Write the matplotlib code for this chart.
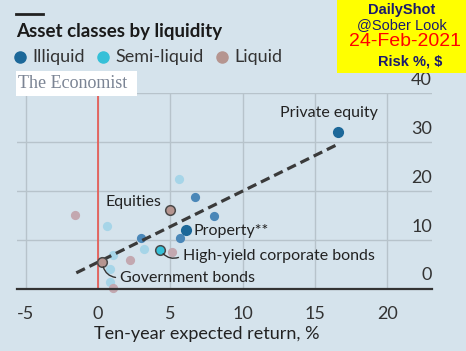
import matplotlib.pyplot as plt
import matplotlib.transforms as mtransforms
from matplotlib.lines import Line2D

plt.rcParams['font.family'] = ['Lato', 'DejaVu Sans']

# 資料：十年預期報酬 (%) 與風險 (%)
illiquid_x = [6.7, 8.0, 3.0, 5.7]
illiquid_y = [18.8, 15.0, 10.5, 10.4]
semi_x = [5.6, 0.6, 3.2, 1.06, 0.83, 0.83]
semi_y = [22.5, 12.9, 8.15, 6.85, 4.0, 1.5]
liquid_x = [-1.6, 5.1, 2.2, 1.06]
liquid_y = [15.2, 7.5, 5.95, 0.3]

# 標註的資產
named = ['Private equity', 'Equities', 'Property**', 'High-yield corporate bonds', 'Government bonds']
named_kind = ['illiquid', 'liquid', 'illiquid', 'semi', 'liquid']
named_x = [16.6, 5.0, 6.1, 4.3, 0.3]
named_y = [32.0, 16.2, 12.0, 8.0, 5.5]

trend_x = [-1.5, 16.6]
trend_y = [3.3, 29.6]

xticks = [-5, 0, 5, 10, 15, 20]
yticks = [0, 10, 20, 30, 40]

bg = '#d5e3ec'
dark = {'illiquid': '#1c6899', 'semi': '#35c0d8', 'liquid': '#b59590'}
faded = {'illiquid': '#4a87b8', 'semi': '#a6d5e8', 'liquid': '#c3a8b0'}

fig = plt.figure(figsize=(4.66, 3.51), dpi=100, facecolor=bg)
ax = fig.add_axes([17/466, 1-289/351, (432-17)/466, (289-93.3)/351])
ax.set_facecolor(bg)
ax.set_xlim(-5.6, 23.1)
ax.set_ylim(0, 40)

for s in ax.spines.values():
    s.set_visible(False)
ax.axhline(0, color='#333333', lw=1.6, zorder=5, clip_on=False)

# 格線
for v in xticks:
    ax.axvline(v, color='#b7c3cb', lw=1, zorder=0)
for v in yticks[1:]:
    ax.axhline(v, color='#b7c3cb', lw=1, zorder=0)
ax.axvline(0, color='#e8554e', lw=1.2, zorder=1)

ax.set_xticks(xticks)
ax.set_xticklabels([str(v) for v in xticks], fontsize=13, color='#333333')
ax.tick_params(axis='x', length=0, pad=12)
ax.set_yticks([])
ax.set_xlabel('Ten-year expected return, %', fontsize=13, color='#222222')
ax.xaxis.set_label_coords((206.5-17)/415, -(334-289)/195.7)
ax.xaxis.label.set_va('center')

off = mtransforms.ScaledTranslation(0, 4/72, fig.dpi_scale_trans)
ytrans = mtransforms.blended_transform_factory(ax.transAxes, ax.transData) + off
for v in yticks:
    ax.text(1.0, v, str(v), transform=ytrans, ha='right', va='bottom',
            fontsize=13, color='#333333')

# 背景點
ax.scatter(illiquid_x, illiquid_y, s=44, color=faded['illiquid'], lw=0, zorder=2, clip_on=False)
ax.scatter(semi_x, semi_y, s=44, color=faded['semi'], lw=0, zorder=2, clip_on=False)
ax.scatter(liquid_x, liquid_y, s=44, color=faded['liquid'], lw=0, zorder=2, clip_on=False)

# 趨勢線
ax.plot(trend_x, trend_y, color='#3a3a3a', lw=2.3, ls=(0, (3, 1.6)), zorder=3)

# 標註點
for name, kind, x, y in zip(named, named_kind, named_x, named_y):
    ec = dark[kind] if kind == 'illiquid' else '#4a4a4a'
    ax.scatter([x], [y], s=48, color=dark[kind], edgecolor=ec, lw=1.1, zorder=4)

lab = dict(fontsize=11.5, color='#222222', zorder=6)
ax.text(named_x[0] - 0.6, named_y[0] + 2.6, named[0], ha='center', va='bottom', **lab)
ax.text(named_x[1] - 0.6, named_y[1] + 1.5, named[1], ha='right', va='center', **lab)
ax.text(named_x[2] + 0.5, named_y[2] - 0.2, named[2], ha='left', va='center', **lab)
conn = dict(arrowstyle='-', color='#333333', lw=1, relpos=(0, 0.5),
            connectionstyle='arc3,rad=-0.45', shrinkA=1, shrinkB=3.5)
ax.annotate(named[3], xy=(named_x[3], named_y[3]), xytext=(5.85, 6.8),
            ha='left', va='center', arrowprops=conn, **lab)
ax.annotate(named[4], xy=(named_x[4], named_y[4]), xytext=(1.5, 2.3),
            ha='left', va='center', arrowprops=conn, **lab)

# 標題與圖例
fig.add_artist(Line2D([16/466, 43/466], [1-14/351, 1-14/351], color='#222222', lw=2))
fig.text(16/466, 1-31/351, 'Asset classes by liquidity', fontsize=13.5, weight='bold',
         color='#1a1a1a', va='center', ha='left')
leg_items = [('Illiquid', dark['illiquid'], 20), ('Semi-liquid', dark['semi'], 103),
             ('Liquid', dark['liquid'], 222)]
for text, c, px in leg_items:
    fig.add_artist(Line2D([px/466], [1-57/351], marker='o', ms=8, color=c, lw=0))
    fig.text((px+12)/466, 1-57/351, text, fontsize=13, color='#333333', va='center', ha='left')

fig.patches.append(plt.Rectangle((16/466, 1-96/351), 121/466, 25/351, transform=fig.transFigure,
                                 fc='white', ec='none'))
fig.text(18/466, 1-83.5/351, 'The Economist', family='Liberation Serif', fontsize=13,
         color='#7b8494', va='center', ha='left')

# DailyShot 標籤
fig.patches.append(plt.Rectangle((337/466, 1-73/351), 129/466, 73/351, transform=fig.transFigure,
                                 fc='#ffff00', ec='none'))
fig.text(402/466, 1-10/351, 'DailyShot', family='Liberation Sans', weight='bold', fontsize=10.5,
         color='#1a1a6e', ha='center', va='center')
fig.text(402/466, 1-25/351, '@Sober Look', family='Liberation Sans', fontsize=10.5,
         color='#1a1a6e', ha='center', va='center')
fig.text(405/466, 1-41/351, '24-Feb-2021', family='Liberation Sans', fontsize=14,
         color='#ff0000', ha='center', va='center')
fig.text(410/466, 1-62/351, 'Risk %, $', family='Liberation Sans', weight='bold', fontsize=10.5,
         color='#1a1a6e', ha='center', va='center')

fig.savefig('out.png', dpi=100, facecolor=bg)
